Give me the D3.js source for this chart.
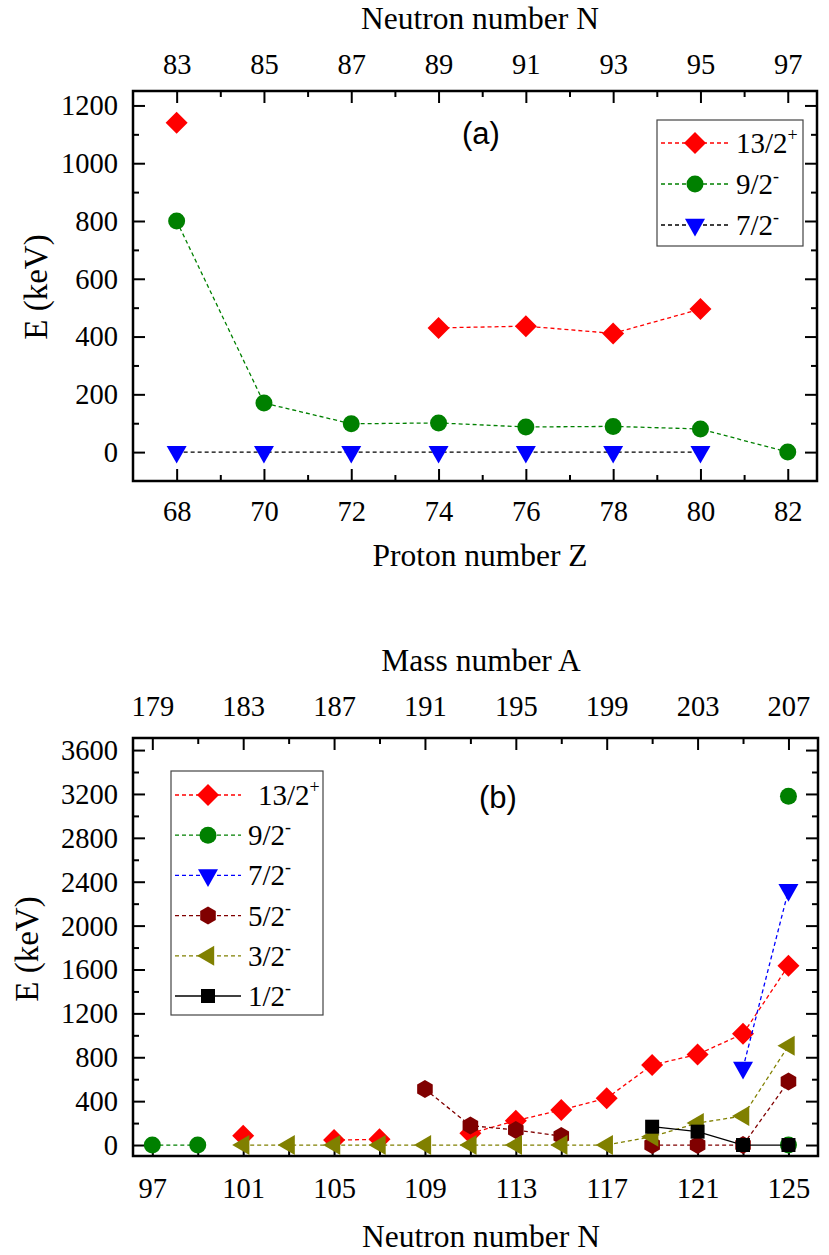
<!DOCTYPE html>
<html><head><meta charset="utf-8">
<script src="https://cdn.jsdelivr.net/npm/d3@7"></script>
<style>body{margin:0;background:#fff}</style>
</head><body>
<svg id="c" width="829" height="1255" xmlns="http://www.w3.org/2000/svg"></svg>
<script>
// ---------- Panel (a) data ----------
const protonZ = [68, 70, 72, 74, 76, 78, 80, 82];
const a_13_2p = [1140, null, null, 430, 436, 411, 495, null];
const a_9_2m  = [800, 170, 98, 101, 87, 89, 80, 0];
const a_7_2m  = [0, 0, 0, 0, 0, 0, 0, null];
const aZTicks = [68, 70, 72, 74, 76, 78, 80, 82];
const aNTicks = [83, 85, 87, 89, 91, 93, 95, 97];
const aYTicks = [0, 200, 400, 600, 800, 1000, 1200];

// ---------- Panel (b) data ----------
const neutronN = [97, 99, 101, 103, 105, 107, 109, 111, 113, 115, 117, 119, 121, 123, 125];
const b_13_2p = [null, null, 85, null, 45, 52, null, 107, 222, 320, 427, 730, 826, 1014, 1635];
const b_9_2m  = [0, 0, null, null, null, null, null, null, null, null, null, null, null, null, 3180];
const b_9_2m_low = [null, null, null, null, null, null, null, null, null, null, null, null, null, null, 0];
const b_7_2m  = [null, null, null, null, null, null, null, null, null, null, null, null, null, 703, 2322];
const b_5_2m  = [null, null, null, null, null, null, 510, 177, 137, 82, null, 0, 0, 0, 578];
const b_3_2m  = [null, null, 0, 0, 0, 0, 0, 0, 0, 0, 0, 76, 200, 265, 904];
const b_1_2m  = [null, null, null, null, null, null, null, null, null, null, null, 167, 122, 0, 0];
const bNTicks = [97, 101, 105, 109, 113, 117, 121, 125];
const bATicks = [179, 183, 187, 191, 195, 199, 203, 207];
const bYTicks = [0, 400, 800, 1200, 1600, 2000, 2400, 2800, 3200, 3600];

const SERIF = "'Liberation Serif','Times New Roman',serif";
const SANS = "'Liberation Sans',Arial,sans-serif";

const svg = d3.select("#c");

const sym = {
  diamond: r => `M0,${-r}L${r},0L0,${r}L${-r},0Z`,
  circle: r => `M${r},0A${r},${r} 0 1,1 ${-r},0A${r},${r} 0 1,1 ${r},0Z`,
  down: s => `M${-s},${-0.62*s}L${s},${-0.62*s}L0,${1.15*s}Z`,
  left: s => `M${-1.1*s},0L${0.62*s},${-s}L${0.62*s},${s}Z`,
  hex: r => { let p = []; for (let i = 0; i < 6; i++) { const a = Math.PI/2 + i*Math.PI/3; p.push([r*Math.cos(a), r*Math.sin(a)]); } return "M" + p.map(q => q.join(",")).join("L") + "Z"; },
  square: s => `M${-s},${-s}H${s}V${s}H${-s}Z`
};

function minorBetween(ticks) {
  const out = [];
  for (let i = 0; i < ticks.length - 1; i++) out.push((ticks[i] + ticks[i+1]) / 2);
  return out;
}

function styleAxis(g) {
  g.select(".domain").remove();
  g.selectAll(".tick line").attr("stroke", "#000").attr("stroke-width", 2);
  g.selectAll(".tick text").attr("font-family", SERIF).attr("font-size", 28.5).attr("fill", "#000");
}

function panel(p) {
  const g = svg.append("g");
  const x = d3.scaleLinear().domain(p.xDomain).range([p.left, p.right]);
  const x2 = d3.scaleLinear().domain([p.xDomain[0] + p.shift, p.xDomain[1] + p.shift]).range([p.left, p.right]);
  const y = d3.scaleLinear().domain(p.yDomain).range([p.bottom, p.top]);

  const gb = g.append("g").attr("transform", `translate(0,${p.bottom})`)
    .call(d3.axisBottom(x).tickValues(p.xTicks).tickSize(-12).tickFormat(d3.format("d")));
  styleAxis(gb);
  gb.selectAll(".tick text").attr("y", p.bLabOff).attr("dy", "0.33em");
  g.append("g").attr("transform", `translate(0,${p.bottom})`)
    .call(d3.axisBottom(x).tickValues(p.xMinor).tickSize(-6).tickFormat("")).call(styleAxis);
  const gt = g.append("g").attr("transform", `translate(0,${p.top})`)
    .call(d3.axisTop(x2).tickValues(p.x2Ticks).tickSize(-12).tickFormat(d3.format("d")));
  styleAxis(gt);
  gt.selectAll(".tick text").attr("y", p.tLabOff).attr("dy", "0.33em");
  g.append("g").attr("transform", `translate(0,${p.top})`)
    .call(d3.axisTop(x2).tickValues(p.x2Minor).tickSize(-6).tickFormat("")).call(styleAxis);
  const gl = g.append("g").attr("transform", `translate(${p.left},0)`)
    .call(d3.axisLeft(y).tickValues(p.yTicks).tickSize(-12).tickFormat(d3.format("d")));
  styleAxis(gl);
  gl.selectAll(".tick text").attr("x", -15).attr("dy", "0.33em");
  g.append("g").attr("transform", `translate(${p.left},0)`)
    .call(d3.axisLeft(y).tickValues(p.yMinor).tickSize(-6).tickFormat("")).call(styleAxis);
  g.append("g").attr("transform", `translate(${p.right},0)`)
    .call(d3.axisRight(y).tickValues(p.yTicks).tickSize(-12).tickFormat("")).call(styleAxis);
  g.append("g").attr("transform", `translate(${p.right},0)`)
    .call(d3.axisRight(y).tickValues(p.yMinor).tickSize(-6).tickFormat("")).call(styleAxis);

  g.append("rect").attr("x", p.left).attr("y", p.top)
    .attr("width", p.right - p.left).attr("height", p.bottom - p.top)
    .attr("fill", "none").attr("stroke", "#000").attr("stroke-width", 2.5);

  const line = d3.line().defined(d => d[1] != null).x(d => x(d[0])).y(d => y(d[1]));
  p.series.forEach(s => {
    const pts = p.xs.map((v, i) => [v, s.values[i]]);
    if (s.line) {
      g.append("path").attr("d", line(pts)).attr("fill", "none")
        .attr("stroke", s.lineColor).attr("stroke-width", 1.3)
        .attr("stroke-dasharray", s.dash ? "4,3" : null);
    }
    g.selectAll(null).data(pts.filter(d => d[1] != null)).enter().append("path")
      .attr("transform", d => `translate(${x(d[0])},${y(d[1])})`)
      .attr("d", sym[s.shape](s.size)).attr("fill", s.color);
  });

  g.append("text").attr("x", p.titleX).attr("y", p.topTitleY).attr("text-anchor", "middle")
    .attr("font-family", SERIF).attr("font-size", 31.5).text(p.topTitle);
  g.append("text").attr("x", p.titleX).attr("y", p.botTitleY).attr("text-anchor", "middle")
    .attr("font-family", SERIF).attr("font-size", 31.5).text(p.botTitle);
  g.append("text").attr("transform", `translate(${p.yTitleX},${p.yTitleY}) rotate(-90)`)
    .attr("text-anchor", "middle").attr("font-family", SERIF).attr("font-size", 33).text("E (keV)");
  g.append("text").attr("x", p.tagX).attr("y", p.tagY).attr("text-anchor", "middle")
    .attr("font-family", SANS).attr("font-size", 31).text(p.tag);

  const L = p.legend;
  g.append("rect").attr("x", L.x).attr("y", L.y).attr("width", L.w).attr("height", L.h)
    .attr("fill", "#fff").attr("stroke", "#444").attr("stroke-width", 1.2);
  p.series.filter(s => s.label).forEach((s, i) => {
    const ry = L.row0 + i * L.dy;
    g.append("line").attr("x1", L.lx1).attr("x2", L.lx2).attr("y1", ry).attr("y2", ry)
      .attr("stroke", s.lineColor).attr("stroke-width", 1.3)
      .attr("stroke-dasharray", s.dash ? "4,3" : null);
    g.append("path").attr("transform", `translate(${(L.lx1 + L.lx2) / 2},${ry})`)
      .attr("d", sym[s.shape](s.size)).attr("fill", s.color);
    const t = g.append("text").attr("x", L.tx + (s.label[0].length > 3 ? L.firstShift : 0)).attr("y", ry + 10)
      .attr("font-family", SERIF).attr("font-size", 29);
    t.append("tspan").text(s.label[0]);
    t.append("tspan").attr("dy", -12).attr("font-size", 18).text(s.label[1]);
  });
}

panel({
  left: 133, right: 817, top: 91, bottom: 481,
  xDomain: [67.0, 82.67], shift: 15, yDomain: [-100, 1250],
  xTicks: aZTicks, xMinor: minorBetween(aZTicks),
  x2Ticks: aNTicks, x2Minor: minorBetween(aNTicks),
  yTicks: aYTicks, yMinor: minorBetween(aYTicks),
  bLabOff: 31, tLabOff: -26,
  xs: protonZ,
  series: [
    {values: a_13_2p, color: "#ff0000", lineColor: "#ff0000", dash: true, line: true, shape: "diamond", size: 11, label: ["13/2", "+"]},
    {values: a_9_2m, color: "#008000", lineColor: "#008000", dash: true, line: true, shape: "circle", size: 8.5, label: ["9/2", "-"]},
    {values: a_7_2m, color: "#0000ff", lineColor: "#000000", dash: true, line: true, shape: "down", size: 10, label: ["7/2", "-"]}
  ],
  titleX: 480, topTitle: "Neutron number N", topTitleY: 29, botTitle: "Proton number Z", botTitleY: 566,
  yTitleX: 47, yTitleY: 287,
  tag: "(a)", tagX: 481, tagY: 144,
  legend: {x: 657, y: 120, w: 146, h: 126, row0: 143, dy: 41, lx1: 661, lx2: 729, tx: 736, firstShift: 0}
});

panel({
  left: 133, right: 818, top: 738, bottom: 1156,
  xDomain: [96.15, 126.3], shift: 82, yDomain: [-100, 3710],
  xTicks: bNTicks, xMinor: minorBetween(bNTicks),
  x2Ticks: bATicks, x2Minor: minorBetween(bATicks),
  yTicks: bYTicks, yMinor: minorBetween(bYTicks),
  bLabOff: 33, tLabOff: -31,
  xs: neutronN,
  series: [
    {values: b_13_2p, color: "#ff0000", lineColor: "#ff0000", dash: true, line: true, shape: "diamond", size: 11, label: ["13/2", "+"]},
    {values: b_9_2m, color: "#008000", lineColor: "#008000", dash: true, line: true, shape: "circle", size: 8.5, label: ["9/2", "-"]},
    {values: b_9_2m_low, color: "#008000", lineColor: "#008000", dash: true, line: false, shape: "circle", size: 8.5},
    {values: b_7_2m, color: "#0000ff", lineColor: "#0000ff", dash: true, line: true, shape: "down", size: 10, label: ["7/2", "-"]},
    {values: b_5_2m, color: "#800000", lineColor: "#800000", dash: true, line: true, shape: "hex", size: 9, label: ["5/2", "-"]},
    {values: b_3_2m, color: "#808000", lineColor: "#808000", dash: true, line: true, shape: "left", size: 10, label: ["3/2", "-"]},
    {values: b_1_2m, color: "#000000", lineColor: "#000000", dash: false, line: true, shape: "square", size: 7, label: ["1/2", "-"]}
  ],
  titleX: 481, topTitle: "Mass number A", topTitleY: 671, botTitle: "Neutron number N", botTitleY: 1247,
  yTitleX: 38, yTitleY: 949,
  tag: "(b)", tagX: 498, tagY: 808,
  legend: {x: 171, y: 771, w: 152, h: 244, row0: 795, dy: 40.2, lx1: 175, lx2: 241, tx: 248, firstShift: 10}
});
</script>
</body></html>
